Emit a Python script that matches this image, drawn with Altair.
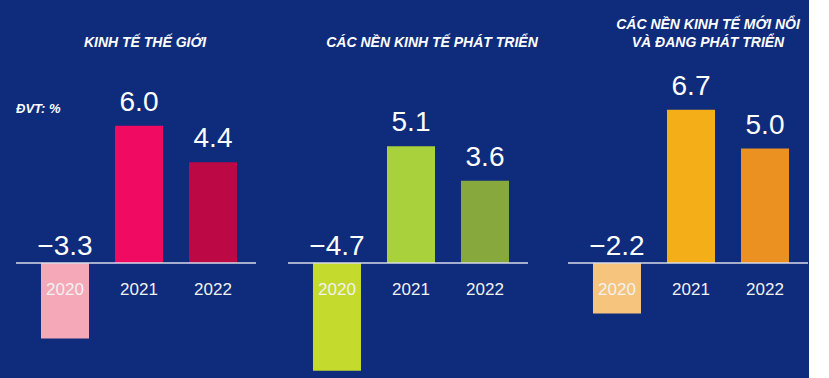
import altair as alt
import pandas as pd

# ---- data ----
years = ["2020", "2021", "2022"]
world = [-3.3, 6.0, 4.4]
advanced = [-4.7, 5.1, 3.6]
emerging = [-2.2, 6.7, 5.0]
world_colors = ["#F5A8B8", "#F00A62", "#BD0846"]
advanced_colors = ["#C4DA2C", "#A8D13C", "#86A83C"]
emerging_colors = ["#F6C47C", "#F3AE18", "#EA9122"]
title_world = ["KINH TẾ THẾ GIỚI"]
title_advanced = ["CÁC NỀN KINH TẾ PHÁT TRIỂN"]
title_emerging = ["CÁC NỀN KINH TẾ  MỚI NỔI", "VÀ ĐANG PHÁT TRIỂN"]
unit_label = "ĐVT: %"

FONT = "Liberation Sans"
Y_DOMAIN = [-5.02, 11.49]
H = 378
BG = "#0E2B7C"
LINE_H = 18


def yscale():
    return alt.Scale(domain=Y_DOMAIN, nice=False, zero=False)


def panel(values, colors, title_lines, title_x, unit=None, lead=0):
    # lead: extra empty room at the panel's left edge (gap to the previous panel)
    width = 240 + lead
    align = (25 + lead) / (44 + lead)
    df = pd.DataFrame({"year": years, "value": values})
    df["zero"] = 0.0
    base = alt.Chart(df)

    def xenc():
        return alt.X(
            "year:N",
            scale=alt.Scale(domain=years, paddingInner=0.351, paddingOuter=0.297 + lead / 148.0,
                            align=align),
            axis=None,
        )

    bars = base.mark_bar().encode(
        x=xenc(),
        y=alt.Y("value:Q", scale=yscale(), axis=None),
        y2=alt.Y2("zero:Q"),
        color=alt.Color("year:N", scale=alt.Scale(domain=years, range=colors), legend=None),
    )

    rule = alt.Chart(pd.DataFrame({"zero": [0.0]})).mark_rule(
        color="#D9DCE8", strokeWidth=1.5
    ).encode(
        y=alt.Y("zero:Q", scale=yscale(), axis=None),
        x=alt.value(lead), x2=alt.value(width),
    )

    pos = base.transform_filter("datum.value >= 0").mark_text(
        dy=-15, baseline="alphabetic", fontSize=28, font=FONT, color="white"
    ).encode(
        x=xenc(),
        y=alt.Y("value:Q", scale=yscale(), axis=None),
        text=alt.Text("value:Q", format=".1f"),
    )

    neg = base.transform_filter("datum.value < 0").mark_text(
        dy=-8, baseline="alphabetic", fontSize=28, font=FONT, color="white"
    ).encode(
        x=xenc(),
        y=alt.Y("zero:Q", scale=yscale(), axis=None),
        text=alt.Text("value:Q", format=".1f"),
    )

    yr = base.mark_text(
        dy=32, baseline="alphabetic", fontSize=17, font=FONT, color="#F2F2F2"
    ).encode(
        x=xenc(),
        y=alt.Y("zero:Q", scale=yscale(), axis=None),
        text="year:N",
    )

    ttl = alt.Chart(pd.DataFrame({"t": ["\n".join(title_lines)]})).mark_text(
        lineBreak="\n", lineHeight=LINE_H, fontSize=14, font=FONT, fontStyle="italic",
        fontWeight="bold", color="white", baseline="bottom", align="center",
    ).encode(
        x=alt.value(title_x + lead),
        y=alt.value(50 - LINE_H * (len(title_lines) - 1)),
        text="t:N",
    )

    layers = [bars, rule, pos, neg, yr, ttl]
    if unit:
        u = alt.Chart(pd.DataFrame({"t": [unit]})).mark_text(
            fontSize=13, font=FONT, fontStyle="italic", fontWeight="bold",
            color="white", align="left", baseline="alphabetic",
        ).encode(x=alt.value(0), y=alt.value(113), text="t:N")
        layers.append(u)

    return alt.layer(*layers).properties(width=width, height=H)


p1 = panel(world, world_colors, title_world, 129, unit_label)
p2 = panel(advanced, advanced_colors, title_advanced, 144)
p3 = panel(emerging, emerging_colors, title_emerging, 140, lead=8)

chart = alt.hconcat(p1, p2, p3, spacing=32, bounds="flush").resolve_scale(
    x="independent", color="independent"
).properties(
    padding={"left": 15, "top": 0, "right": 0, "bottom": 0}
).configure(background=BG).configure_view(strokeWidth=0)

chart.save("out.html", embed_options={"renderer": "svg", "actions": False})
